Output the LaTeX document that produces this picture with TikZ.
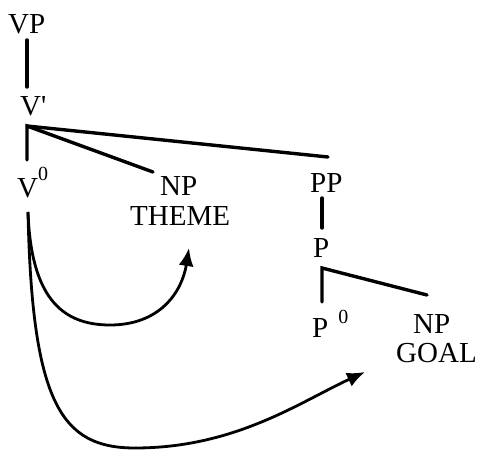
\documentclass[tikz,border=0pt]{standalone}
\usepackage{fontspec}
\setmainfont{Liberation Serif}
\usetikzlibrary{arrows.meta}
\begin{document}
\begin{tikzpicture}[x=1pt,y=-1pt,
  lbl/.style={inner sep=0pt,anchor=base west,font=\fontsize{29}{30}\selectfont},
  branch/.style={line width=3.4pt,line cap=round},
  move/.style={line width=2.8pt,-{Latex[length=18pt,width=15pt]}}]
\useasboundingbox (0,0) rectangle (477,452);
% labels
\node[lbl] (vp) at (8,34) {VP};
\node[lbl] (vbar) at (20,116) {V\textquotesingle};
\node[lbl] (v0) at (17,197) {V\raisebox{17pt}{\fontsize{20}{20}\selectfont 0}};
\node[lbl] (np1) at (160,195) {NP};
\node[lbl] (theme) at (130,225) {THEME};
\node[lbl] (pp) at (310,192) {PP};
\node[lbl] (pbar) at (313,257) {P};
\node[lbl] (p0) at (312,337) {P\hspace{10pt}\raisebox{14pt}{\fontsize{20}{20}\selectfont 0}};
\node[lbl] (np2) at (413,333) {NP};
\node[lbl] (goal) at (396,362) {GOAL};
% branch points
\coordinate (vpB) at (27,40);
\coordinate (vbT) at (27,87);
\coordinate (vbB) at (27,126);
\coordinate (v0T) at (27,160);
\coordinate (np1T) at (153,172);
\coordinate (ppT) at (328,157);
\coordinate (ppB) at (322,198);
\coordinate (pbT) at (322,228);
\coordinate (pbB) at (322,268);
\coordinate (p0T) at (322,302);
\coordinate (np2T) at (427,295);
\coordinate (trace) at (28,212);
\coordinate (tip1) at (189,248);
\coordinate (tip2) at (365,372);
% tree
\draw[branch] (vpB) -- (vbT);
\draw[branch] (v0T) -- (vbB) -- (np1T);
\draw[branch] (vbB) -- (ppT);
\draw[branch] (ppB) -- (pbT);
\draw[branch] (p0T) -- (pbB) -- (np2T);
% movement arrows
\draw[move] (trace) .. controls (31,295) and (60,325) .. (110,325)
  .. controls (160,325) and (182,292) .. (tip1);
\draw[move] (trace) .. controls (32,405) and (62,448) .. (135,448)
  .. controls (235,448) and (300,402) .. (tip2);
\end{tikzpicture}
\end{document}
